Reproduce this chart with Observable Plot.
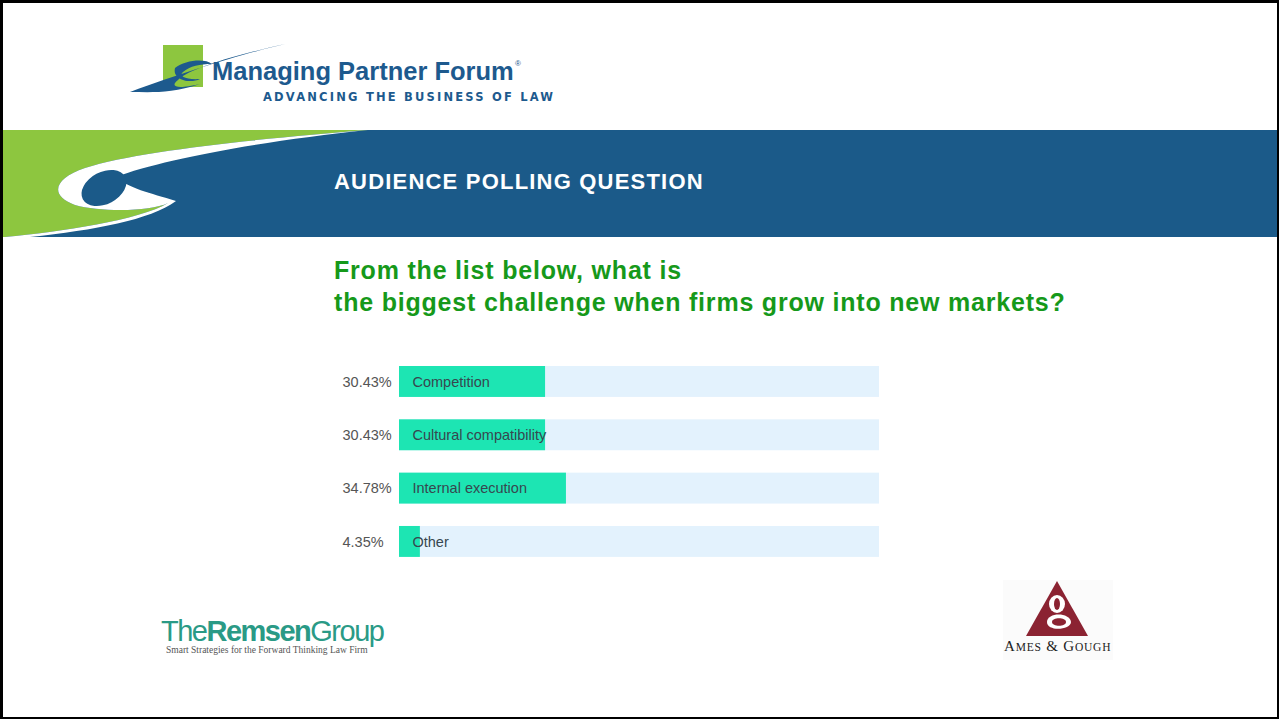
<!DOCTYPE html>
<html>
<head>
<meta charset="utf-8">
<script src="https://cdn.jsdelivr.net/npm/d3@7"></script>
<script src="https://cdn.jsdelivr.net/npm/@observablehq/plot@0.6"></script>
<style>
  html, body { margin: 0; padding: 0; background: #fff; }
  #page { position: relative; width: 1279px; height: 719px; box-sizing: border-box;
          border-top: 3px solid #000; border-left: 3px solid #000; border-right: 2px solid #000; border-bottom: 2px solid #000;
          overflow: hidden; font-family: "Liberation Sans", Arial, sans-serif; }
  .abs { position: absolute; }
  #banner-title { left: 331px; top: 166px; color: #fff; font-weight: bold; font-size: 22px; letter-spacing: 1.2px; }
  #question { left: 331px; top: 251px; color: #16991a; font-weight: bold; font-size: 25px; letter-spacing: 0.8px; line-height: 32px; white-space: nowrap; }
  #chart { left: 327px; top: 323px; }
</style>
</head>
<body>
<div id="page">
  <svg class="abs" style="left:-3px;top:-3px" width="1279" height="719">
    <!-- Header logo -->
    <rect x="163" y="45" width="40" height="42" fill="#8dc63f"/>
    <path d="M130,92 C190,70 250,52 285,44 C240,54 190,68 178,80 C170,86 175,90 200,84 C170,94 150,92 130,92 Z" fill="#1d5a8e"/>
    <path d="M175,68 C185,60 205,58 212,64 C200,64 190,66 183,72 C178,76 186,80 200,79 C190,84 172,80 175,68 Z" fill="#1d5a8e"/>
    <text x="212" y="80" font-family="Liberation Sans, Arial, sans-serif" font-weight="bold" font-size="25.5" fill="#1d5a8e">Managing Partner Forum</text>
    <text x="515" y="66" font-family="Liberation Sans, Arial, sans-serif" font-size="8" fill="#1d5a8e">®</text>
    <text x="263" y="101" font-family="DejaVu Sans, sans-serif" font-weight="bold" font-size="11.5" letter-spacing="2.2" fill="#1d5a8e">ADVANCING THE BUSINESS OF LAW</text>

    <!-- Banner -->
    <rect x="0" y="130" width="1279" height="107" fill="#1b5a89"/>
    <path d="M0,130 L368,130 C270,138 140,150 85,168 C55,178 48,195 75,205 C100,212 150,212 168,203 C140,220 60,232 5,237 L0,237 Z" fill="#8dc63f"/>
    <path d="M368,130 C270,138 140,150 85,168 C55,178 48,195 75,205 C100,212 150,212 168,203 C140,220 60,232 5,237 L30,237 C95,230 150,220 176,201 C150,193 128,188 116,177 C160,160 262,141 368,130 Z" fill="#ffffff"/>
    <ellipse cx="104" cy="188" rx="24" ry="16" transform="rotate(-28 104 188)" fill="#1b5a89"/>

    <!-- The Remsen Group logo -->
    <text x="161" y="641" font-family="Liberation Sans, Arial, sans-serif" font-size="29" letter-spacing="-1.5" fill="#2a9a86"><tspan>The</tspan><tspan font-weight="bold">Remsen</tspan><tspan>Group</tspan></text>
    <text x="166" y="653" font-family="Liberation Serif, serif" font-size="9.5" fill="#555">Smart Strategies for the Forward Thinking Law Firm</text>

    <!-- Ames & Gough logo -->
    <rect x="1003" y="580" width="110" height="80" fill="#fbfbfb"/>
    <path d="M1057,581 L1088,636 L1026,636 Z" fill="#8b2332"/>
    <ellipse cx="1057" cy="604" rx="8" ry="9" fill="#fff"/>
    <ellipse cx="1057" cy="604" rx="3" ry="6" fill="#8b2332"/>
    <path d="M1047,622 C1047,612 1070,612 1071,622 C1071,630 1047,632 1047,622 Z" fill="#fff"/>
    <path d="M1052,622 C1052,617 1066,617 1066,622 C1066,627 1052,627 1052,622 Z" fill="#8b2332"/>
    <text x="1004" y="651" font-family="Liberation Serif, serif" font-size="15" letter-spacing="0.8" fill="#222">A<tspan font-size="11.5">MES</tspan> &amp; G<tspan font-size="11.5">OUGH</tspan></text>
  </svg>

  <div id="banner-title" class="abs">AUDIENCE POLLING QUESTION</div>
  <div id="question" class="abs">From the list below, what is<br>the biggest challenge when firms grow into new markets?</div>
  <div id="chart" class="abs"></div>
</div>

<script>
// Data
const categories = ["Competition", "Cultural compatibility", "Internal execution", "Other"];
const percentages = [30.43, 30.43, 34.78, 4.35];
const percentLabels = ["30.43%", "30.43%", "34.78%", "4.35%"];

const rows = categories.map((c, i) => ({category: c, value: percentages[i], label: percentLabels[i], full: 100}));

const chart = Plot.plot({
  width: 560,
  height: 260,
  marginLeft: 69,
  marginRight: 11,
  marginTop: 0,
  marginBottom: 0,
  style: {fontFamily: "Liberation Sans, Arial, sans-serif", background: "transparent", overflow: "visible"},
  x: {domain: [0, 100], axis: null},
  y: {domain: categories, range: [17.6, 253.3], padding: 0.42, round: false, axis: null},
  marks: [
    Plot.barX(rows, {y: "category", x1: 0, x2: "full", fill: "#e3f2fd"}),
    Plot.barX(rows, {y: "category", x1: 0, x2: "value", fill: "#1de5b3"}),
    Plot.text(rows, {y: "category", x: 0, text: "category", textAnchor: "start", dx: 13, fill: "#37474f", fontSize: 14.5}),
    Plot.text(rows, {y: "category", x: 0, text: "label", textAnchor: "start", dx: -57, fill: "#555555", fontSize: 14.5})
  ]
});
document.getElementById("chart").appendChild(chart);
</script>
</body>
</html>
